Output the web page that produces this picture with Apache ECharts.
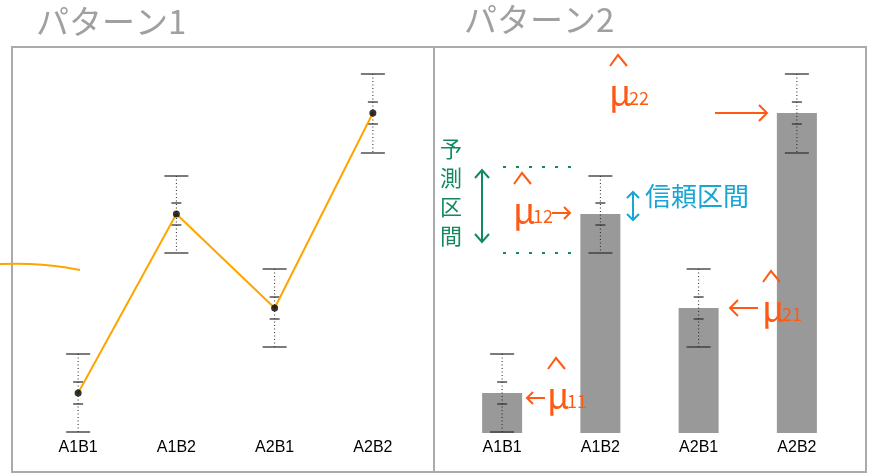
<!DOCTYPE html>
<html>
<head>
<meta charset="utf-8">
<script src="https://cdn.jsdelivr.net/npm/echarts@6/dist/echarts.min.js"></script>
<style>
  html, body { margin: 0; padding: 0; background: #fff; }
  #chart { width: 871px; height: 475px; }
</style>
</head>
<body>
<div id="chart"></div>
<script>
// Cell means with confidence and prediction intervals for the 2x2 design
const categories = ['A1B1', 'A1B2', 'A2B1', 'A2B2'];
const means  = [2.0, 10.95, 6.25, 16.0];
const ciLow  = [1.45, 10.4, 5.7, 15.45];
const ciHigh = [2.55, 11.5, 6.8, 16.55];
const piLow  = [0.05, 9.0, 4.3, 14.0];
const piHigh = [3.95, 12.85, 8.2, 17.95];

const panelTitles = ['パターン1', 'パターン2'];

const errData = categories.map((c, i) => [i, piLow[i], ciLow[i], ciHigh[i], piHigh[i]]);

function renderErr(params, api) {
  const x = api.coord([api.value(0), 0])[0];
  const yPL = api.coord([api.value(0), api.value(1)])[1];
  const yCL = api.coord([api.value(0), api.value(2)])[1];
  const yCH = api.coord([api.value(0), api.value(3)])[1];
  const yPH = api.coord([api.value(0), api.value(4)])[1];
  const longW = 12, shortW = 5;
  const capStyle = { stroke: '#333', lineWidth: 1.3 };
  return {
    type: 'group',
    children: [
      { type: 'line', shape: { x1: x, y1: yPH, x2: x, y2: yPL },
        style: { stroke: '#222', lineWidth: 1, lineDash: [1, 2.5] } },
      { type: 'line', shape: { x1: x - longW, y1: yPH, x2: x + longW, y2: yPH }, style: capStyle },
      { type: 'line', shape: { x1: x - longW, y1: yPL, x2: x + longW, y2: yPL }, style: capStyle },
      { type: 'line', shape: { x1: x - shortW, y1: yCH, x2: x + shortW, y2: yCH }, style: capStyle },
      { type: 'line', shape: { x1: x - shortW, y1: yCL, x2: x + shortW, y2: yCL }, style: capStyle }
    ]
  };
}

const chart = echarts.init(document.getElementById('chart'));

const ORANGE = '#ff5a14';
const GREEN = '#138a5e';
const CYAN = '#1aa6d4';
const HAND = '"Noto Sans CJK JP", sans-serif';

// hat + mu + subscript for an estimated cell mean
function muHat(x, y, sub) {
  return [
    { type: 'polyline', z: 100, shape: { points: [[x + 1, y - 22], [x + 9, y - 33], [x + 18, y - 22]] },
      style: { stroke: ORANGE, lineWidth: 2, fill: null } },
    { type: 'text', z: 100, left: x, top: y - 14, style: { text: 'μ', fill: ORANGE, font: '36px ' + HAND } },
    { type: 'text', z: 100, left: x + 20, top: y + 1, style: { text: sub, fill: ORANGE, font: '18px ' + HAND } }
  ];
}
function arrow(x1, y, x2, color, s) {
  const dir = x2 > x1 ? 1 : -1;
  return [
    { type: 'line', z: 100, shape: { x1: x1, y1: y, x2: x2, y2: y }, style: { stroke: color, lineWidth: 2 } },
    { type: 'polyline', z: 100, shape: { points: [[x2 - dir * s, y - s], [x2, y], [x2 - dir * s, y + s]] },
      style: { stroke: color, lineWidth: 2, fill: null } }
  ];
}

const graphics = [
  // panel frames
  { type: 'rect', shape: { x: 12, y: 47, width: 422, height: 425 },
    style: { fill: null, stroke: '#aaaaaa', lineWidth: 2 }, z: 0 },
  { type: 'rect', shape: { x: 434, y: 47, width: 432, height: 425 },
    style: { fill: null, stroke: '#aaaaaa', lineWidth: 2 }, z: 0 },
  // panel titles
  { type: 'text', left: 36, top: 5, style: { text: panelTitles[0], fill: '#a0a0a0', font: '33px ' + HAND } },
  { type: 'text', left: 464, top: 3, style: { text: panelTitles[1], fill: '#a0a0a0', font: '33px ' + HAND } },
  // stray stroke at left edge
  { type: 'polyline', z: 100, shape: { points: [[0, 264], [30, 264], [55, 266], [80, 270]], smooth: 0.4 },
    style: { stroke: '#ffa500', lineWidth: 2, fill: null } },
  // prediction interval label (vertical)
  { type: 'text', z: 100, left: 440, top: 134,
    style: { text: '予\n測\n区\n間', fill: GREEN, font: '22px ' + HAND, lineHeight: 29 } },
  { type: 'line', z: 100, shape: { x1: 482, y1: 170, x2: 482, y2: 242 }, style: { stroke: GREEN, lineWidth: 2 } },
  { type: 'polyline', z: 100, shape: { points: [[475, 178], [482, 170], [489, 178]] }, style: { stroke: GREEN, lineWidth: 2, fill: null } },
  { type: 'polyline', z: 100, shape: { points: [[475, 234], [482, 242], [489, 234]] }, style: { stroke: GREEN, lineWidth: 2, fill: null } },
  { type: 'line', z: 100, shape: { x1: 503, y1: 167, x2: 576, y2: 167 }, style: { stroke: GREEN, lineWidth: 2, lineDash: [3, 10] } },
  { type: 'line', z: 100, shape: { x1: 503, y1: 253, x2: 578, y2: 253 }, style: { stroke: GREEN, lineWidth: 2, lineDash: [3, 10] } },
  // confidence interval label
  { type: 'line', z: 100, shape: { x1: 633, y1: 192, x2: 633, y2: 220 }, style: { stroke: CYAN, lineWidth: 2 } },
  { type: 'polyline', z: 100, shape: { points: [[627, 198], [633, 192], [639, 198]] }, style: { stroke: CYAN, lineWidth: 2, fill: null } },
  { type: 'polyline', z: 100, shape: { points: [[627, 214], [633, 220], [639, 214]] }, style: { stroke: CYAN, lineWidth: 2, fill: null } },
  { type: 'text', z: 100, left: 645, top: 183, style: { text: '信頼区間', fill: CYAN, font: '26px ' + HAND } },
  // estimated means
  ...muHat(609, 88, '22'),
  ...arrow(715, 113, 767, ORANGE, 8),
  ...muHat(513, 206, '12'),
  ...arrow(552, 213, 570, ORANGE, 6),
  ...muHat(762, 304, '21'),
  ...arrow(758, 308, 730, ORANGE, 8),
  ...muHat(547, 391, '11'),
  ...arrow(545, 398, 527, ORANGE, 6)
];

const xAxisBase = {
  type: 'category',
  data: categories,
  axisLine: { show: false },
  axisTick: { show: false },
  axisLabel: { color: '#000', fontSize: 16, fontFamily: '"Liberation Sans", Arial, sans-serif', margin: 7 }
};
const yAxisBase = { type: 'value', min: 0, max: 19, show: false, splitLine: { show: false } };

chart.setOption({
  animation: false,
  backgroundColor: '#fff',
  grid: [
    { left: 29, width: 393, top: 53, height: 380 },
    { left: 453, width: 393, top: 53, height: 380 }
  ],
  xAxis: [
    Object.assign({ gridIndex: 0 }, xAxisBase),
    Object.assign({ gridIndex: 1 }, xAxisBase)
  ],
  yAxis: [
    Object.assign({ gridIndex: 0 }, yAxisBase),
    Object.assign({ gridIndex: 1 }, yAxisBase)
  ],
  series: [
    { type: 'custom', xAxisIndex: 0, yAxisIndex: 0, data: errData, renderItem: renderErr, z: 3 },
    { type: 'line', xAxisIndex: 0, yAxisIndex: 0, data: means, symbol: 'none',
      lineStyle: { color: '#ffa500', width: 2 }, z: 4 },
    { type: 'scatter', xAxisIndex: 0, yAxisIndex: 0, data: means, symbolSize: 7,
      itemStyle: { color: '#000' }, z: 5 },
    { type: 'bar', xAxisIndex: 1, yAxisIndex: 1, data: means, barWidth: 40,
      itemStyle: { color: '#999999' }, z: 2 },
    { type: 'custom', xAxisIndex: 1, yAxisIndex: 1, data: errData, renderItem: renderErr, z: 3 }
  ],
  graphic: graphics
});
</script>
</body>
</html>
